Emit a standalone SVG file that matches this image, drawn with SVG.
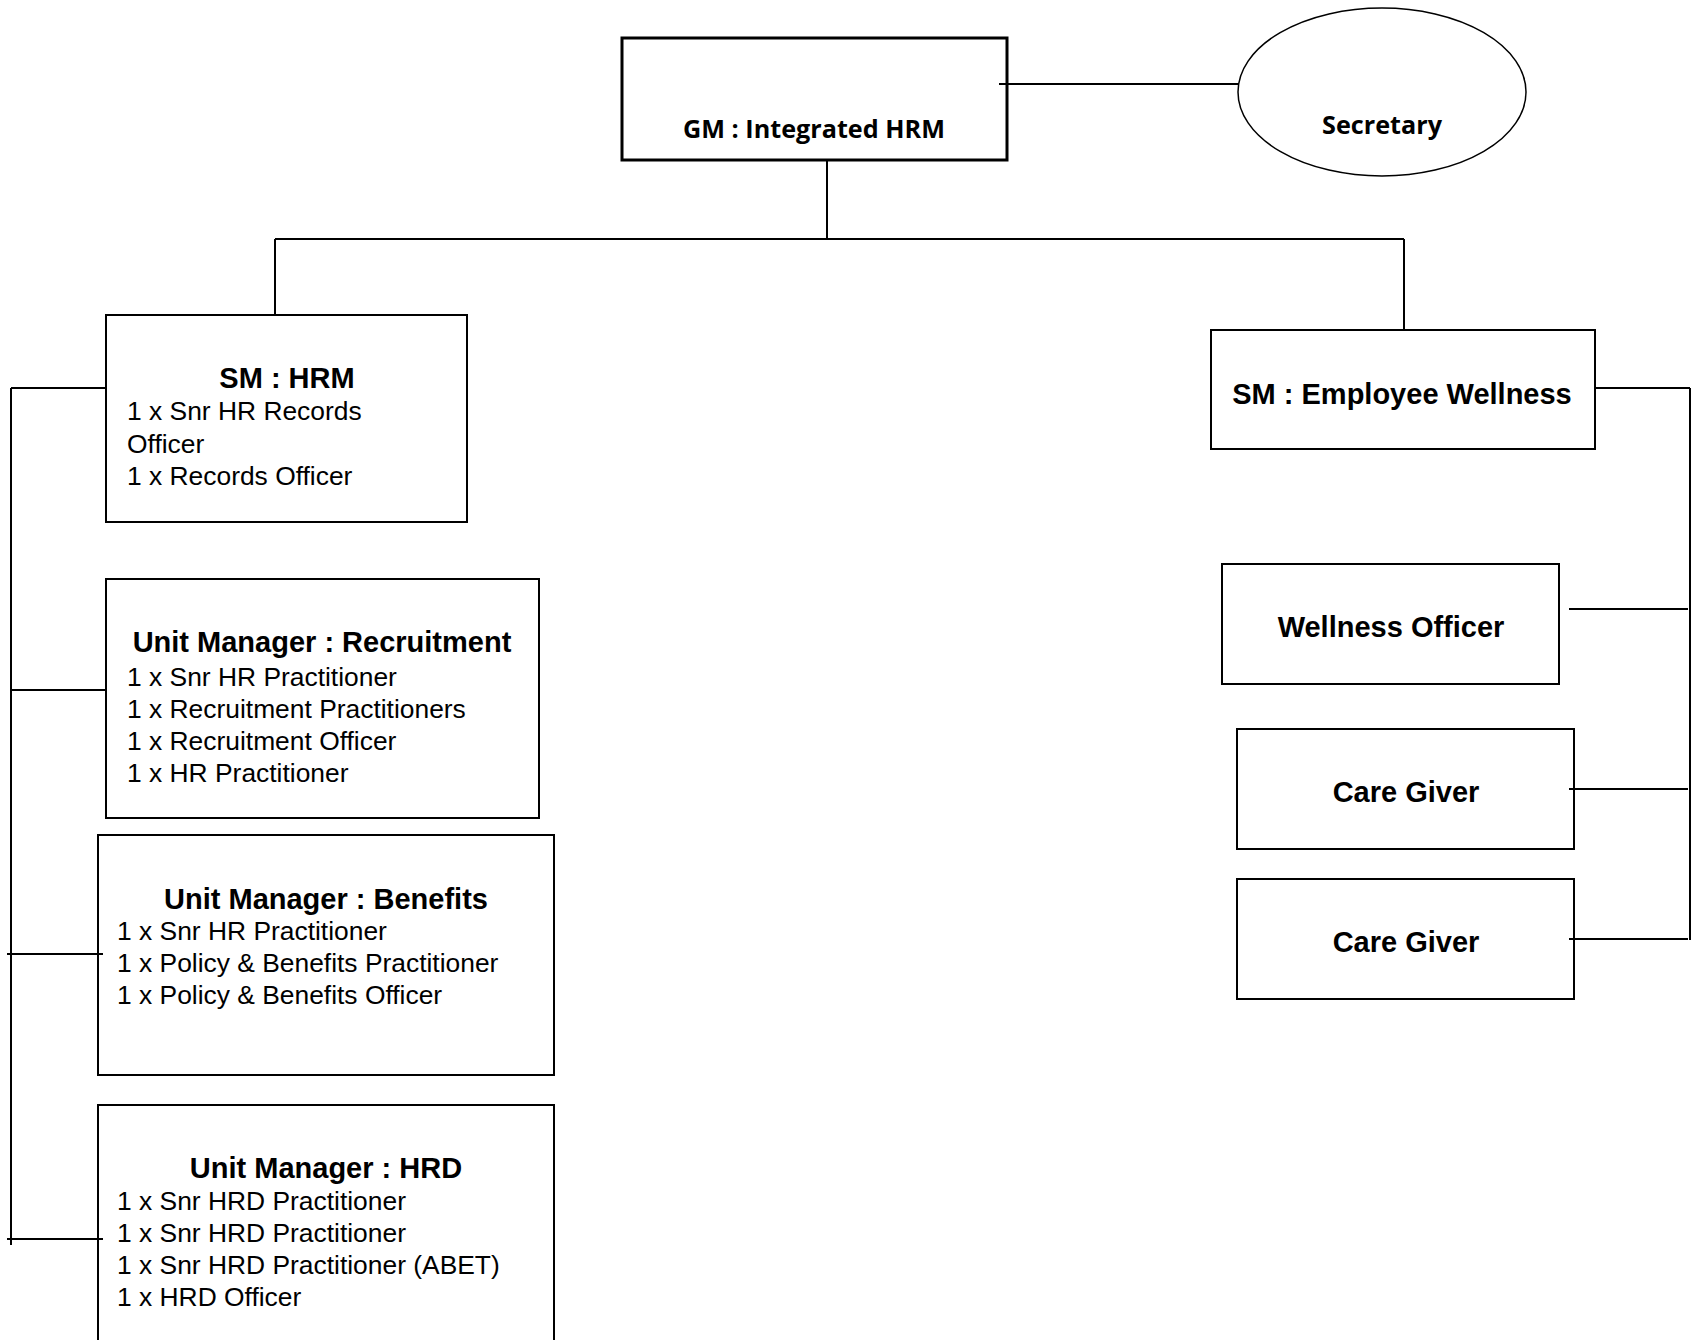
<svg xmlns="http://www.w3.org/2000/svg" width="1702" height="1340" viewBox="0 0 1702 1340">
<style>
.box{fill:#fff;stroke:#000;stroke-width:2}
.gm{fill:#fff;stroke:#000;stroke-width:3}
.ln{stroke:#000;stroke-width:2;fill:none}
.cal{font-family:"Open Sans","Liberation Sans",sans-serif;font-weight:700;font-size:25.2px;text-anchor:middle}
.hd{font-family:"Liberation Sans",Arial,sans-serif;font-weight:700;font-size:29px;text-anchor:middle}
.bd{font-family:"Liberation Sans",Arial,sans-serif;font-size:26.4px}
</style>
<rect width="1702" height="1340" fill="#fff"/>
<g id="gm">
<rect class="gm" x="622" y="38" width="385" height="122"/>
<text class="cal" x="814" y="138">GM : Integrated HRM</text>
</g>
<g id="secretary">
<ellipse cx="1382" cy="92" rx="144" ry="84" fill="#fff" stroke="#000" stroke-width="1.5"/>
<text class="cal" x="1382" y="134">Secretary</text>
</g>
<g id="sm-hrm">
<rect class="box" x="106" y="315" width="361" height="207"/>
<text class="hd" x="287" y="388">SM : HRM</text>
<text class="bd" x="127" y="420">1 x Snr HR Records</text>
<text class="bd" x="127" y="453">Officer</text>
<text class="bd" x="127" y="485">1 x Records Officer</text>
</g>
<g id="um-recruitment">
<rect class="box" x="106" y="579" width="433" height="239"/>
<text class="hd" x="322" y="652">Unit Manager : Recruitment</text>
<text class="bd" x="127" y="686">1 x Snr HR Practitioner</text>
<text class="bd" x="127" y="718">1 x Recruitment Practitioners</text>
<text class="bd" x="127" y="750">1 x Recruitment Officer</text>
<text class="bd" x="127" y="782">1 x HR Practitioner</text>
</g>
<g id="um-benefits">
<rect class="box" x="98" y="835" width="456" height="240"/>
<text class="hd" x="326" y="909">Unit Manager : Benefits</text>
<text class="bd" x="117" y="940">1 x Snr HR Practitioner</text>
<text class="bd" x="117" y="972">1 x Policy &amp; Benefits Practitioner</text>
<text class="bd" x="117" y="1004">1 x Policy &amp; Benefits Officer</text>
</g>
<g id="um-hrd">
<rect class="box" x="98" y="1105" width="456" height="240"/>
<text class="hd" x="326" y="1178">Unit Manager : HRD</text>
<text class="bd" x="117" y="1210">1 x Snr HRD Practitioner</text>
<text class="bd" x="117" y="1242">1 x Snr HRD Practitioner</text>
<text class="bd" x="117" y="1274">1 x Snr HRD Practitioner (ABET)</text>
<text class="bd" x="117" y="1306">1 x HRD Officer</text>
</g>
<g id="sm-wellness">
<rect class="box" x="1211" y="330" width="384" height="119"/>
<text class="hd" x="1402" y="404">SM : Employee Wellness</text>
</g>
<g id="wellness-officer">
<rect class="box" x="1222" y="564" width="337" height="120"/>
<text class="hd" x="1391" y="637">Wellness Officer</text>
</g>
<g id="care-giver-1">
<rect class="box" x="1237" y="729" width="337" height="120"/>
<text class="hd" x="1406" y="802">Care Giver</text>
</g>
<g id="care-giver-2">
<rect class="box" x="1237" y="879" width="337" height="120"/>
<text class="hd" x="1406" y="952">Care Giver</text>
</g>
<g id="connectors">
<line class="ln" x1="999" y1="84" x2="1239" y2="84"/>
<line class="ln" x1="827" y1="160" x2="827" y2="239" stroke-width="1.5"/>
<line class="ln" x1="275" y1="239" x2="1404" y2="239"/>
<line class="ln" x1="275" y1="239" x2="275" y2="314"/>
<line class="ln" x1="1404" y1="239" x2="1404" y2="330"/>
<line class="ln" x1="11" y1="388" x2="11" y2="1245"/>
<line class="ln" x1="11" y1="388" x2="106" y2="388"/>
<line class="ln" x1="11" y1="690" x2="106" y2="690"/>
<line class="ln" x1="7" y1="954" x2="103" y2="954"/>
<line class="ln" x1="7" y1="1239" x2="103" y2="1239"/>
<line class="ln" x1="1690" y1="388" x2="1690" y2="940"/>
<line class="ln" x1="1595" y1="388" x2="1690" y2="388"/>
<line class="ln" x1="1569" y1="609" x2="1688" y2="609"/>
<line class="ln" x1="1569" y1="789" x2="1688" y2="789"/>
<line class="ln" x1="1569" y1="939" x2="1688" y2="939"/>
</g>
</svg>
